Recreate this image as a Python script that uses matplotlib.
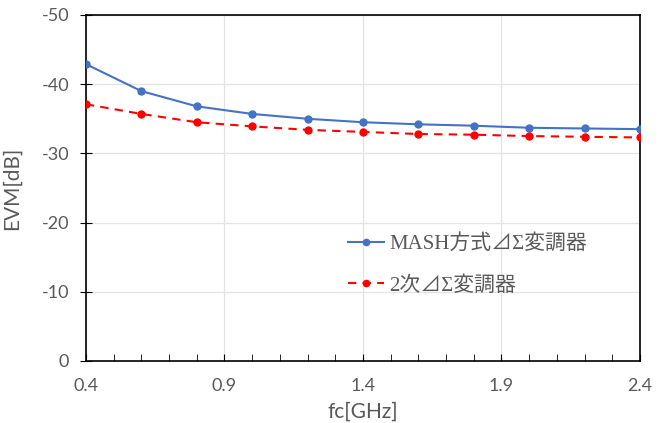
import matplotlib
matplotlib.use("Agg")
import matplotlib.pyplot as plt
from matplotlib.ticker import MultipleLocator

fc = [0.4, 0.6, 0.8, 1.0, 1.2, 1.4, 1.6, 1.8, 2.0, 2.2, 2.4]
mash = [-42.9, -39.0, -36.8, -35.7, -35.0, -34.5, -34.2, -34.0, -33.7, -33.6, -33.5]
second = [-37.1, -35.7, -34.5, -33.9, -33.4, -33.1, -32.8, -32.7, -32.5, -32.4, -32.3]
xticks = [0.4, 0.9, 1.4, 1.9, 2.4]
yticks = [0, -10, -20, -30, -40, -50]
label_mash = "MASH方式⊿Σ変調器"
label_second = "2次⊿Σ変調器"

plt.rcParams['font.family'] = ['Lato', 'DejaVu Sans']

fig = plt.figure(figsize=(6.66, 4.23), dpi=100)
ax = fig.add_axes([0.129, 0.1466, 0.832, 0.818])

ax.plot(fc, mash, color="#4472C4", lw=1.5, marker="o", ms=5, label=label_mash, zorder=3)
ax.plot(fc, second, color="#FF0000", lw=1.5, ls=(0, (4, 3)), marker="o", ms=5, label=label_second, zorder=3)

ax.set_xlim(0.4, 2.4)
ax.set_ylim(0, -50)
ax.set_xticks(xticks)
ax.set_xticklabels([f"{v:.1f}" for v in xticks])
ax.set_yticks(yticks)
ax.set_yticklabels([str(v) for v in yticks])
ax.xaxis.set_minor_locator(MultipleLocator(0.1))
ax.grid(True, which="major", color="#E3E3E3", lw=0.9)
ax.set_axisbelow(True)

ax.tick_params(axis="x", which="both", direction="in", length=5, color="black", labelcolor="#595959", labelsize=13, pad=12)
ax.tick_params(axis="y", which="major", direction="inout", length=8, color="black", labelcolor="#595959", labelsize=13, pad=8)
for s in ax.spines.values():
    s.set_color("black")
    s.set_linewidth(1.2)

ax.set_xlabel("fc[GHz]", fontsize=15, color="#595959", labelpad=6)
ax.set_ylabel("EVM[dB]", fontsize=15, color="#595959", labelpad=14)

leg = ax.legend(loc="upper left", bbox_to_anchor=(0.44, 0.42), frameon=False,
                prop={"family": ["Liberation Serif", "Noto Sans CJK JP"], "size": 15},
                labelcolor="#595959", handlelength=1.7, handletextpad=0.25, labelspacing=1.05,
                markerscale=0.9)

fig.savefig("out.png", dpi=100)
